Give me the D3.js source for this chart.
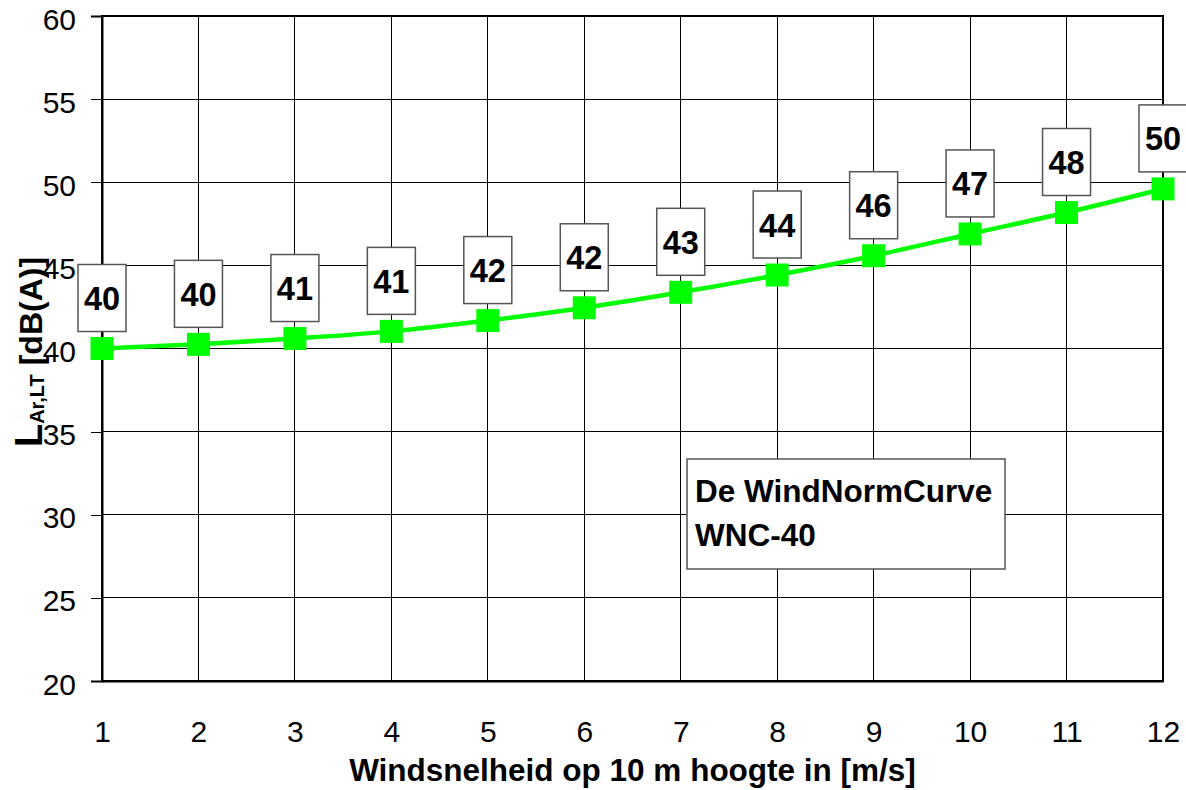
<!DOCTYPE html>
<html>
<head>
<meta charset="utf-8">
<script src="https://cdn.jsdelivr.net/npm/d3@7"></script>
<style>
  html, body { margin: 0; padding: 0; background: #fff; }
  svg { display: block; }
  text { font-family: "Liberation Sans", Arial, sans-serif; }
</style>
</head>
<body>
<svg id="chart" width="1186" height="790"></svg>
<script>
// ---- data ----
const windSpeeds = [1, 2, 3, 4, 5, 6, 7, 8, 9, 10, 11, 12];
const levels = [40.0, 40.25, 40.6, 41.03, 41.68, 42.45, 43.38, 44.42, 45.58, 46.89, 48.18, 49.6];
const valueLabels = ["40", "40", "41", "41", "42", "42", "43", "44", "46", "47", "48", "50"];
const yTicks = [20, 25, 30, 35, 40, 45, 50, 55, 60];
const xTicks = [1, 2, 3, 4, 5, 6, 7, 8, 9, 10, 11, 12];
const legendLines = ["De WindNormCurve", "WNC-40"];
const xTitle = "Windsnelheid op 10 m hoogte in [m/s]";

(function () {
// ---- layout ----
const svg = d3.select("#chart");
const pL = 102, pR = 1163, pT = 16, pB = 681;
const x = d3.scaleLinear().domain([1, 12]).range([pL, pR]);
const y = d3.scaleLinear().domain([20, 60]).range([pB, pT]);

// grid
const grid = svg.append("g").attr("shape-rendering", "crispEdges");
grid.selectAll("line.h").data(yTicks).enter().append("line")
  .attr("class", "h")
  .attr("x1", pL).attr("x2", pR)
  .attr("y1", d => y(d)).attr("y2", d => y(d))
  .attr("stroke", "#000").attr("stroke-width", 1);
grid.selectAll("line.v").data(xTicks).enter().append("line")
  .attr("class", "v")
  .attr("x1", d => x(d)).attr("x2", d => x(d))
  .attr("y1", pT).attr("y2", pB)
  .attr("stroke", "#000").attr("stroke-width", 1);

// frame
svg.append("rect")
  .attr("x", pL).attr("y", pT)
  .attr("width", pR - pL).attr("height", pB - pT)
  .attr("fill", "none").attr("stroke", "#000").attr("stroke-width", 2)
  .attr("shape-rendering", "crispEdges");

// y axis
const yAxis = d3.axisLeft(y).tickValues(yTicks).tickSize(11).tickPadding(15);
const gy = svg.append("g").attr("transform", `translate(${pL},0)`).call(yAxis);
gy.select(".domain").attr("stroke", "#000").attr("stroke-width", 2);
gy.selectAll(".tick line").attr("stroke", "#000").attr("stroke-width", 1).attr("shape-rendering", "crispEdges");
gy.selectAll(".tick text")
  .attr("font-family", '"Liberation Sans", Arial, sans-serif')
  .attr("font-size", 30).attr("fill", "#000")
  .attr("dy", "13px");

// x axis
const xAxis = d3.axisBottom(x).tickValues(xTicks).tickSize(0).tickPadding(0).tickFormat(d3.format("d"));
const gx = svg.append("g").attr("transform", `translate(0,${pB})`).call(xAxis);
gx.select(".domain").attr("stroke", "#000").attr("stroke-width", 2);
gx.selectAll(".tick text")
  .attr("font-family", '"Liberation Sans", Arial, sans-serif')
  .attr("font-size", 30).attr("fill", "#000")
  .attr("dy", null).attr("y", 61);

// axis titles
svg.append("text")
  .attr("x", (pL + pR) / 2).attr("y", 781)
  .attr("text-anchor", "middle")
  .attr("font-size", 31.5).attr("font-weight", "bold").attr("fill", "#000")
  .text(xTitle);

const yt = svg.append("text")
  .attr("transform", "translate(42,352) rotate(-90)")
  .attr("text-anchor", "middle")
  .attr("font-size", 32).attr("font-weight", "bold").attr("fill", "#000");
yt.append("tspan").attr("font-size", 38).text("L");
yt.append("tspan").attr("font-size", 20).attr("dy", 2).text("Ar,LT");
yt.append("tspan").attr("dy", -2).text(" [dB(A)]");

// series
const pts = windSpeeds.map((w, i) => ({ w, v: levels[i], lab: valueLabels[i] }));
const line = d3.line().x(d => x(d.w)).y(d => y(d.v)).curve(d3.curveMonotoneX);
svg.append("path").datum(pts)
  .attr("d", line)
  .attr("fill", "none").attr("stroke", "#00ff00").attr("stroke-width", 4.5);

const ms = 23;
svg.selectAll("rect.marker").data(pts).enter().append("rect")
  .attr("class", "marker")
  .attr("x", d => x(d.w) - ms / 2).attr("y", d => y(d.v) - ms / 2)
  .attr("width", ms).attr("height", ms)
  .attr("fill", "#00ff00");

// data labels
const bw = 48, bh = 67, gap = 17;
const lg = svg.selectAll("g.lab").data(pts).enter().append("g").attr("class", "lab");
lg.append("rect")
  .attr("x", d => x(d.w) - bw / 2).attr("y", d => y(d.v) - gap - bh)
  .attr("width", bw).attr("height", bh)
  .attr("fill", "#fff").attr("stroke", "#555").attr("stroke-width", 1.5);
lg.append("text")
  .attr("x", d => x(d.w)).attr("y", d => y(d.v) - gap - bh / 2 + 12)
  .attr("text-anchor", "middle")
  .attr("font-size", 32.5).attr("font-weight", "bold").attr("fill", "#000")
  .text(d => d.lab);

// legend box
svg.append("rect")
  .attr("x", 687).attr("y", 459).attr("width", 318).attr("height", 110)
  .attr("fill", "#fff").attr("stroke", "#555").attr("stroke-width", 1.5);
svg.selectAll("text.leg").data(legendLines).enter().append("text")
  .attr("class", "leg")
  .attr("x", 695).attr("y", (d, i) => 502 + i * 44)
  .attr("font-size", 31.5).attr("font-weight", "bold").attr("fill", "#000")
  .text(d => d);
})();
</script>
</body>
</html>
